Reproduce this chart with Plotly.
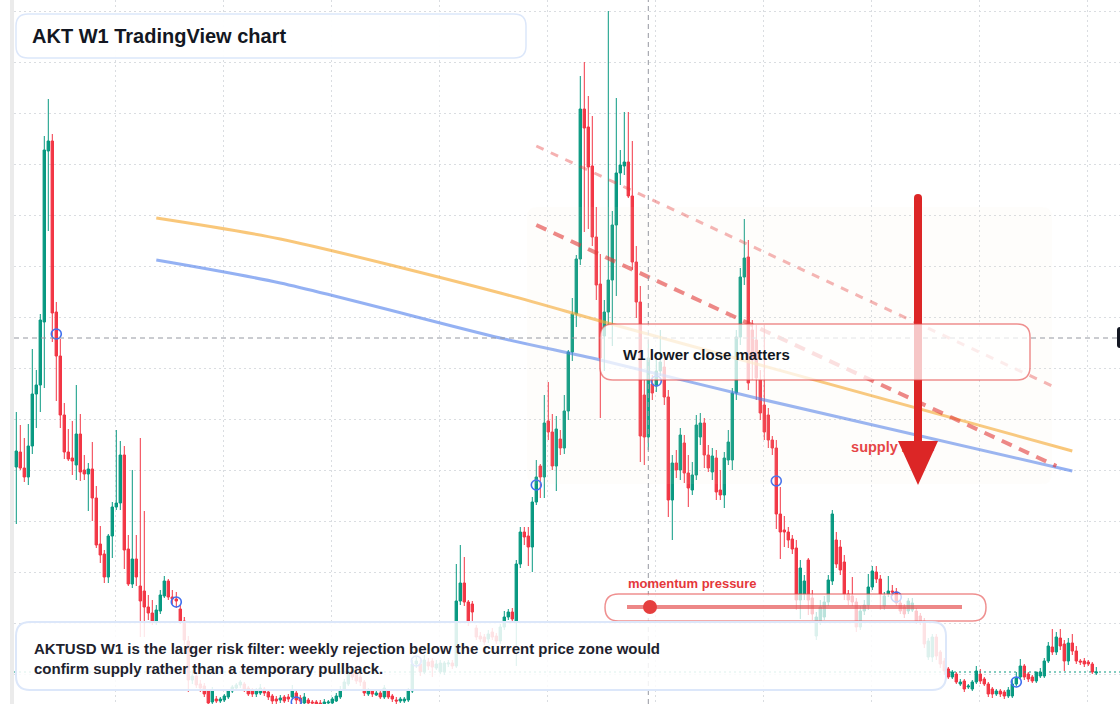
import plotly.graph_objects as go

# ---------------- data (weekly AKTUSD, prices in US cents) ----------------
week_index = list(range(271))

open_c = [
    333, 348, 332, 323, 354, 406, 415, 478, 649, 659,
    488, 444, 385, 348, 342, 335, 366, 330, 326, 331,
    302, 256, 246, 223, 264, 293, 297, 345, 251, 216,
    241, 214, 209, 193, 187, 179, 189, 204, 219, 203,
    201, 191, 179, 159, 120, 124, 116, 114, 109, 98,
    101, 99, 100, 103, 109, 112, 115, 116, 112, 109,
    106, 107, 111, 108, 104, 101, 100, 103, 103, 103,
    107, 102, 97, 100, 98, 98, 97, 96, 97, 97,
    99, 103, 111, 116, 129, 126, 123, 118, 106, 109,
    105, 107, 103, 109, 104, 100, 99, 99, 100, 109,
    136, 136, 128, 138, 139, 132, 128, 128, 136, 137,
    134, 199, 217, 198, 196, 172, 164, 163, 161, 168,
    164, 159, 173, 183, 188, 179, 236, 268, 264, 253,
    298, 334, 323, 379, 368, 334, 361, 352, 389, 448,
    486, 541, 691, 673, 634, 563, 516, 464, 488, 520,
    575, 627, 634, 638, 604, 538, 498, 405, 363, 416,
    414, 429, 433, 403, 300, 337, 330, 357, 327, 310,
    325, 363, 377, 345, 328, 342, 310, 305, 340, 340,
    407, 463, 523, 543, 470, 460, 420, 395, 385, 360,
    352, 286, 270, 268, 261, 252, 200, 206, 240, 202,
    164, 179, 183, 198, 219, 260, 253, 238, 206, 204,
    198, 173, 189, 195, 213, 228, 221, 194, 206, 209,
    208, 197, 193, 189, 190, 189, 184, 179, 143, 143,
    163, 148, 139, 131, 123, 126, 116, 119, 113, 111,
    118, 126, 121, 116, 111, 106, 109, 108, 104, 104,
    116, 123, 134, 126, 123, 119, 124, 124, 139, 153,
    148, 162, 156, 139, 157, 149, 139, 139, 138, 136,
    127,
]
high_c = [
    388, 375, 362, 376, 451, 430, 486, 664, 701, 666,
    498, 461, 397, 371, 379, 415, 386, 345, 337, 358,
    314, 274, 250, 266, 298, 370, 359, 354, 265, 330,
    265, 362, 289, 205, 200, 195, 210, 224, 221, 210,
    208, 195, 183, 164, 130, 128, 120, 117, 111, 113,
    104, 103, 106, 111, 115, 117, 120, 118, 114, 112,
    112, 116, 113, 110, 106, 104, 105, 105, 106, 115,
    110, 105, 107, 102, 100, 100, 100, 101, 100, 103,
    107, 114, 121, 132, 132, 129, 126, 120, 112, 111,
    110, 109, 115, 111, 106, 103, 103, 103, 112, 140,
    143, 140, 145, 142, 142, 140, 140, 139, 140, 140,
    236, 255, 243, 200, 199, 175, 168, 166, 170, 172,
    167, 176, 189, 191, 192, 240, 273, 273, 273, 303,
    340, 336, 405, 418, 386, 384, 370, 405, 450, 502,
    545, 724, 738, 704, 684, 593, 546, 500, 789, 589,
    702, 650, 688, 688, 659, 554, 514, 420, 460, 425,
    440, 470, 440, 410, 345, 350, 372, 365, 345, 338,
    385, 387, 382, 355, 352, 350, 330, 348, 370, 412,
    470, 532, 581, 560, 480, 475, 430, 475, 392, 364,
    360, 313, 284, 273, 265, 260, 240, 225, 242, 210,
    188, 200, 204, 225, 290, 268, 260, 245, 210, 223,
    202, 194, 200, 226, 234, 234, 225, 208, 224, 215,
    212, 200, 196, 202, 202, 192, 187, 182, 162, 166,
    166, 150, 142, 133, 130, 128, 121, 121, 116, 120,
    134, 131, 123, 118, 113, 111, 111, 110, 113, 120,
    128, 141, 136, 128, 125, 128, 132, 142, 158, 171,
    168, 171, 160, 162, 166, 154, 141, 142, 140, 138,
    133,
]
low_c = [
    276, 330, 318, 315, 346, 372, 388, 412, 569, 458,
    399, 372, 341, 339, 325, 320, 319, 320, 289, 279,
    252, 237, 217, 217, 242, 290, 290, 231, 214, 212,
    214, 163, 163, 180, 175, 175, 186, 202, 200, 196,
    192, 176, 155, 108, 116, 112, 108, 103, 94, 94,
    97, 97, 98, 101, 107, 110, 112, 108, 104, 103,
    103, 105, 104, 100, 96, 96, 97, 97, 98, 101,
    94, 96, 95, 94, 94, 94, 94, 94, 95, 95,
    98, 101, 109, 114, 120, 116, 114, 104, 104, 103,
    104, 101, 101, 101, 98, 96, 97, 97, 98, 107,
    132, 124, 126, 130, 123, 130, 126, 125, 133, 131,
    132, 195, 194, 174, 179, 160, 158, 155, 157, 160,
    156, 156, 170, 180, 177, 134, 232, 255, 234, 228,
    295, 302, 302, 360, 330, 309, 345, 346, 380, 439,
    473, 535, 568, 571, 554, 500, 382, 429, 475, 454,
    504, 615, 625, 602, 530, 482, 338, 335, 350, 400,
    408, 424, 395, 283, 260, 322, 320, 317, 293, 305,
    320, 355, 332, 328, 320, 300, 300, 292, 335, 330,
    400, 455, 515, 410, 420, 400, 380, 360, 352, 345,
    271, 241, 253, 252, 246, 190, 181, 200, 185, 180,
    160, 175, 180, 194, 215, 232, 225, 200, 195, 194,
    168, 170, 185, 190, 210, 217, 190, 190, 203, 204,
    194, 186, 182, 186, 188, 176, 175, 152, 140, 138,
    140, 132, 125, 121, 121, 116, 114, 108, 111, 109,
    116, 116, 114, 103, 102, 104, 103, 101, 102, 102,
    114, 121, 120, 118, 117, 117, 122, 122, 137, 145,
    145, 150, 129, 135, 145, 136, 135, 133, 134, 126,
    125,
]
close_c = [
    349, 332, 323, 354, 406, 415, 480, 650, 659, 487,
    444, 385, 348, 341, 339, 366, 328, 326, 331, 302,
    255, 245, 223, 264, 293, 297, 345, 250, 216, 241,
    223, 199, 193, 187, 179, 190, 205, 219, 203, 201,
    199, 178, 160, 120, 124, 115, 112, 106, 97, 109,
    99, 101, 104, 109, 113, 115, 118, 111, 106, 106,
    109, 112, 107, 103, 99, 99, 102, 99, 101, 110,
    100, 99, 103, 97, 97, 96, 96, 98, 98, 101,
    104, 110, 118, 129, 123, 119, 118, 107, 109, 106,
    107, 103, 112, 103, 101, 99, 101, 101, 109, 136,
    139, 128, 140, 134, 133, 136, 137, 137, 137, 134,
    199, 217, 198, 179, 188, 163, 161, 158, 166, 163,
    159, 173, 183, 188, 181, 236, 268, 263, 253, 298,
    323, 323, 377, 368, 334, 371, 352, 389, 448, 486,
    541, 691, 672, 633, 563, 515, 442, 488, 520, 575,
    627, 635, 638, 604, 538, 498, 364, 363, 442, 407,
    429, 438, 403, 300, 337, 330, 365, 327, 312, 325,
    375, 377, 345, 332, 344, 308, 305, 342, 358, 407,
    463, 523, 542, 417, 440, 422, 387, 368, 360, 352,
    286, 268, 268, 260, 251, 200, 232, 219, 200, 186,
    183, 193, 198, 220, 286, 236, 230, 206, 200, 198,
    173, 189, 195, 213, 229, 221, 206, 204, 209, 208,
    197, 189, 186, 199, 197, 179, 178, 156, 159, 163,
    144, 136, 129, 123, 128, 118, 118, 111, 114, 118,
    129, 119, 116, 106, 106, 109, 106, 104, 110, 116,
    122, 134, 123, 121, 119, 128, 128, 139, 154, 148,
    163, 154, 139, 157, 149, 139, 138, 136, 136, 128,
    128,
]

# moving-average style overlays (value in cents at given week index)
ma_idx = [35, 66, 121, 146, 186, 264]
ma_orange = [582, 561, 507, 479, 435, 349]
ma_blue = [540, 517, 462, 440, 401, 329]

# descending supply trendlines
supply_upper_idx = [130, 259]
supply_upper = [654, 414]
supply_lower_idx = [130, 260]
supply_lower = [575, 334]

# swing markers (body mid-points)
pivot_idx = [10, 40, 70, 100, 130, 160, 190, 220, 250]
pivot_val = [466, 198, 98, 139, 315, 419, 319, 203, 118]

last_price_c = 128
crosshair_idx = 158
crosshair_price_c = 462

for arr in (open_c, high_c, low_c, close_c):
    assert len(arr) == len(week_index)

usd = lambda a: [v / 100 for v in a]

# ---------------- geometry helpers (pixel -> paper) ----------------
FIG_W, FIG_H = 1120, 704
ML = 14
PW, PH = FIG_W - ML, FIG_H
CANDLE_PX = 4.0
X0_PX = 16.3


def X(px):
    return (px - ML) / PW


def Y(py):
    return 1 - py / PH


def rpath(x0, y0, x1, y1, r):
    return (f"M {X(x0 + r)},{Y(y0)} L {X(x1 - r)},{Y(y0)} "
            f"Q {X(x1)},{Y(y0)} {X(x1)},{Y(y0 + r)} L {X(x1)},{Y(y1 - r)} "
            f"Q {X(x1)},{Y(y1)} {X(x1 - r)},{Y(y1)} L {X(x0 + r)},{Y(y1)} "
            f"Q {X(x0)},{Y(y1)} {X(x0)},{Y(y1 - r)} L {X(x0)},{Y(y0 + r)} "
            f"Q {X(x0)},{Y(y0)} {X(x0 + r)},{Y(y0)} Z")


x_lo = -(X0_PX - ML) / CANDLE_PX
x_hi = x_lo + PW / CANDLE_PX

FONT = "Liberation Sans, Arial, Helvetica, sans-serif"
GREEN = "#089981"
RED = "#f23645"

fig = go.Figure()

fig.add_trace(go.Candlestick(
    x=week_index, open=usd(open_c), high=usd(high_c), low=usd(low_c), close=usd(close_c),
    increasing=dict(line=dict(color=GREEN, width=1), fillcolor=GREEN),
    decreasing=dict(line=dict(color=RED, width=1), fillcolor=RED),
    whiskerwidth=0, hoverinfo="skip", showlegend=False,
))

fig.add_trace(go.Scatter(
    x=pivot_idx, y=usd(pivot_val), mode="markers", hoverinfo="skip",
    marker=dict(symbol="circle-open", size=10, color="#3f6fef", line=dict(width=1.6)),
))

fig.add_trace(go.Scatter(
    x=ma_idx, y=usd(ma_orange), mode="lines", hoverinfo="skip",
    line=dict(color="rgba(245,165,40,0.62)", width=3, shape="spline", smoothing=0.8),
))
fig.add_trace(go.Scatter(
    x=ma_idx, y=usd(ma_blue), mode="lines", hoverinfo="skip",
    line=dict(color="rgba(70,120,235,0.58)", width=3, shape="spline", smoothing=0.8),
))
fig.add_trace(go.Scatter(
    x=supply_upper_idx, y=usd(supply_upper), mode="lines", hoverinfo="skip",
    line=dict(color="rgba(228,50,50,0.38)", width=3, dash="8px,8px"),
))
fig.add_trace(go.Scatter(
    x=supply_lower_idx, y=usd(supply_lower), mode="lines", hoverinfo="skip",
    line=dict(color="rgba(225,45,45,0.6)", width=4, dash="11px,8px"),
))

# "supply zone" label lives in the data layer so the arrow head covers it
fig.add_trace(go.Scatter(
    x=[(893 - X0_PX) / CANDLE_PX], y=[(800 - 448) / 100], mode="text",
    text=["<b>supply zone</b>"], textposition="middle center", hoverinfo="skip",
    textfont=dict(family=FONT, size=14.5, color="#e5383b"),
))

shapes = []
# shaded supply zone
shapes.append(dict(type="path", xref="paper", yref="paper", layer="above",
                   path=rpath(527, 207, 1052, 484, 10),
                   fillcolor="rgba(245,225,205,0.08)", line=dict(width=0)))
# last price line
shapes.append(dict(type="line", xref="paper", yref="y", x0=0, x1=1,
                   y0=last_price_c / 100, y1=last_price_c / 100, layer="above",
                   line=dict(color=GREEN, width=1, dash="2px,3px")))
# crosshair
shapes.append(dict(type="line", xref="x", yref="paper", x0=crosshair_idx, x1=crosshair_idx,
                   y0=0, y1=1, layer="above",
                   line=dict(color="#9598a1", width=1, dash="5px,4px")))
shapes.append(dict(type="line", xref="paper", yref="y", x0=0, x1=X(1117),
                   y0=crosshair_price_c / 100, y1=crosshair_price_c / 100, layer="above",
                   line=dict(color="#9598a1", width=1, dash="5px,4px")))
# red arrow
shapes.append(dict(type="line", xref="paper", yref="paper", x0=X(918), x1=X(918),
                   y0=Y(198), y1=Y(446), layer="above",
                   line=dict(color="#dc2626", width=8)))
shapes.append(dict(type="circle", xref="paper", yref="paper", x0=X(914), x1=X(922),
                   y0=Y(194), y1=Y(202), layer="above", fillcolor="#dc2626",
                   line=dict(width=0)))
shapes.append(dict(type="path", xref="paper", yref="paper", layer="above",
                   path=f"M {X(898)},{Y(441)} L {X(938)},{Y(441)} L {X(918)},{Y(485)} Z",
                   fillcolor="#dc2626", line=dict(width=0)))
# W1 box
shapes.append(dict(type="path", xref="paper", yref="paper", layer="above",
                   path=rpath(600, 324, 1030, 380, 13),
                   fillcolor="rgba(255,255,255,0.74)",
                   line=dict(color="rgba(228,70,70,0.6)", width=1.5)))
# momentum pill
shapes.append(dict(type="path", xref="paper", yref="paper", layer="above",
                   path=rpath(605, 594, 986, 621, 13.5),
                   fillcolor="rgba(255,255,255,0.72)",
                   line=dict(color="rgba(228,70,70,0.6)", width=1.5)))
shapes.append(dict(type="line", xref="paper", yref="paper", x0=X(627), x1=X(962),
                   y0=Y(607), y1=Y(607), layer="above",
                   line=dict(color="rgba(228,70,70,0.65)", width=4)))
shapes.append(dict(type="circle", xref="paper", yref="paper", x0=X(643), x1=X(657),
                   y0=Y(600), y1=Y(614), layer="above", fillcolor="#e53e3e",
                   line=dict(width=0)))
# bottom text box
shapes.append(dict(type="path", xref="paper", yref="paper", layer="above",
                   path=rpath(16, 622, 946, 690, 14),
                   fillcolor="rgba(255,255,255,0.86)",
                   line=dict(color="#dce7fa", width=2)))
# title box
shapes.append(dict(type="path", xref="paper", yref="paper", layer="above",
                   path=rpath(16, 14, 526, 58, 12),
                   fillcolor="rgba(255,255,255,0.95)",
                   line=dict(color="#dce7fa", width=1.5)))
# left separator strip
shapes.append(dict(type="rect", xref="paper", yref="paper", x0=X(10), x1=X(14),
                   y0=0, y1=1, layer="above", fillcolor="#ebebeb", line=dict(width=0)))
# crosshair price label (clipped at the right edge)
shapes.append(dict(type="path", xref="paper", yref="paper", layer="above",
                   path=rpath(1117, 327, 1145, 348, 3),
                   fillcolor="#131722", line=dict(width=0)))

annotations = [
    dict(xref="paper", yref="paper", x=X(30), y=Y(36), xanchor="left", yanchor="middle",
         text="<b>AKT W1 TradingView chart</b>", showarrow=False,
         font=dict(family=FONT, size=20, color="#131722")),
    dict(xref="paper", yref="paper", x=X(621), y=Y(354), xanchor="left", yanchor="middle",
         text="<b>W1 lower close matters</b>", showarrow=False,
         font=dict(family=FONT, size=15, color="#131722")),
    dict(xref="paper", yref="paper", x=X(626), y=Y(583), xanchor="left", yanchor="middle",
         text="<b>momentum pressure</b>", showarrow=False,
         font=dict(family=FONT, size=13, color="#e5383b")),
    dict(xref="paper", yref="paper", x=X(32), y=Y(658), xanchor="left", yanchor="middle",
         align="left", showarrow=False,
         text="<b>AKTUSD W1 is the larger risk filter: weekly rejection below the current price zone would"
              "<br>confirm supply rather than a temporary pullback.</b>",
         font=dict(family=FONT, size=15, color="#1e222d")),
]

fig.update_layout(
    width=FIG_W, height=FIG_H,
    margin=dict(l=ML, r=0, t=0, b=0, pad=0),
    paper_bgcolor="white", plot_bgcolor="white",
    showlegend=False, boxgap=0.4, boxgroupgap=0,
    shapes=shapes, annotations=annotations,
    xaxis=dict(range=[x_lo, x_hi], tickmode="linear", tick0=24.7, dtick=27,
               showgrid=True, gridcolor="#dadde1", gridwidth=1, griddash="2px,3px",
               showticklabels=False, ticks="", zeroline=False, showline=False,
               rangeslider=dict(visible=False), fixedrange=True),
    yaxis=dict(range=[0.96, 8.00], tickmode="linear", tick0=1.26, dtick=0.51,
               showgrid=True, gridcolor="#dadde1", gridwidth=1, griddash="2px,3px",
               showticklabels=False, ticks="", zeroline=False, showline=False,
               fixedrange=True),
)

fig.write_html("out.html", config={"displayModeBar": False, "staticPlot": True})
